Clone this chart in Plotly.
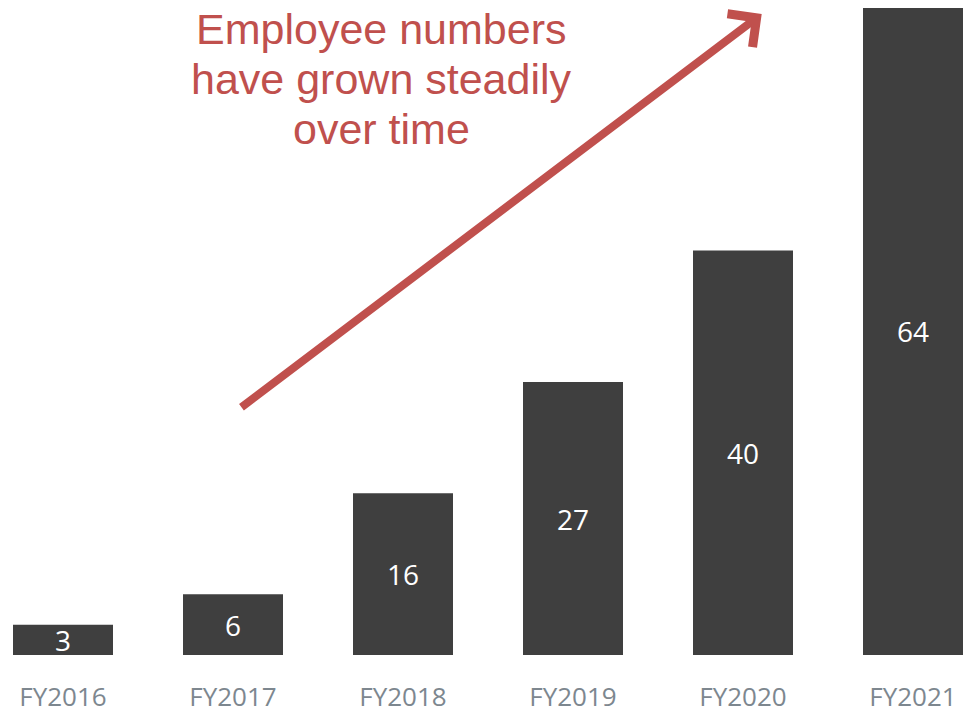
import plotly.graph_objects as go

# Employee headcount by fiscal year
years = ["FY2016", "FY2017", "FY2018", "FY2019", "FY2020", "FY2021"]
employees = [3, 6, 16, 27, 40, 64]

headline = ["Employee numbers", "have grown steadily", "over time"]

BAR_COLOR = "#3f3f3f"
ACCENT = "#c0504d"
TICK_COLOR = "#7d878f"

W, H = 966, 714
PLOT_H = 657

fig = go.Figure()
fig.add_trace(go.Bar(
    x=years,
    y=employees,
    marker=dict(color=BAR_COLOR, line=dict(width=0)),
    text=[str(v) for v in employees],
    textposition="inside",
    insidetextanchor="middle",
    textangle=0,
    constraintext="none",
    textfont=dict(family="Open Sans", size=28, color="white"),
    hoverinfo="skip",
))

# Upward trend arrow
fig.add_annotation(
    x=4.11, y=63.4, ax=1.041, ay=24.4,
    xref="x", yref="y", axref="x", ayref="y",
    text="", showarrow=True,
    arrowhead=4, arrowsize=1.0, arrowwidth=8, arrowcolor=ACCENT,
    standoff=0, startstandoff=0,
)

# Headline, one annotation per line
for i, line in enumerate(headline):
    fig.add_annotation(
        x=381 / W, y=1 - (29 + 50 * i) / PLOT_H, xref="paper", yref="paper",
        text=line, showarrow=False,
        font=dict(family="Liberation Sans, Arial", size=43, color=ACCENT),
        xanchor="center", yanchor="middle",
    )

fig.update_layout(
    width=W, height=H,
    margin=dict(l=0, r=0, t=0, b=H - PLOT_H),
    paper_bgcolor="white", plot_bgcolor="white",
    bargap=70 / 170,
    showlegend=False,
    xaxis=dict(
        type="category",
        range=[-63 / 170, (W - 63) / 170],
        showgrid=False, zeroline=False, showline=False,
        ticks="", ticklabelstandoff=24,
        tickfont=dict(family="Open Sans", size=26, color=TICK_COLOR),
        fixedrange=True,
    ),
    yaxis=dict(
        range=[0, PLOT_H / (649 / 64)],
        visible=False, fixedrange=True,
    ),
)

fig.write_html("out.html")
